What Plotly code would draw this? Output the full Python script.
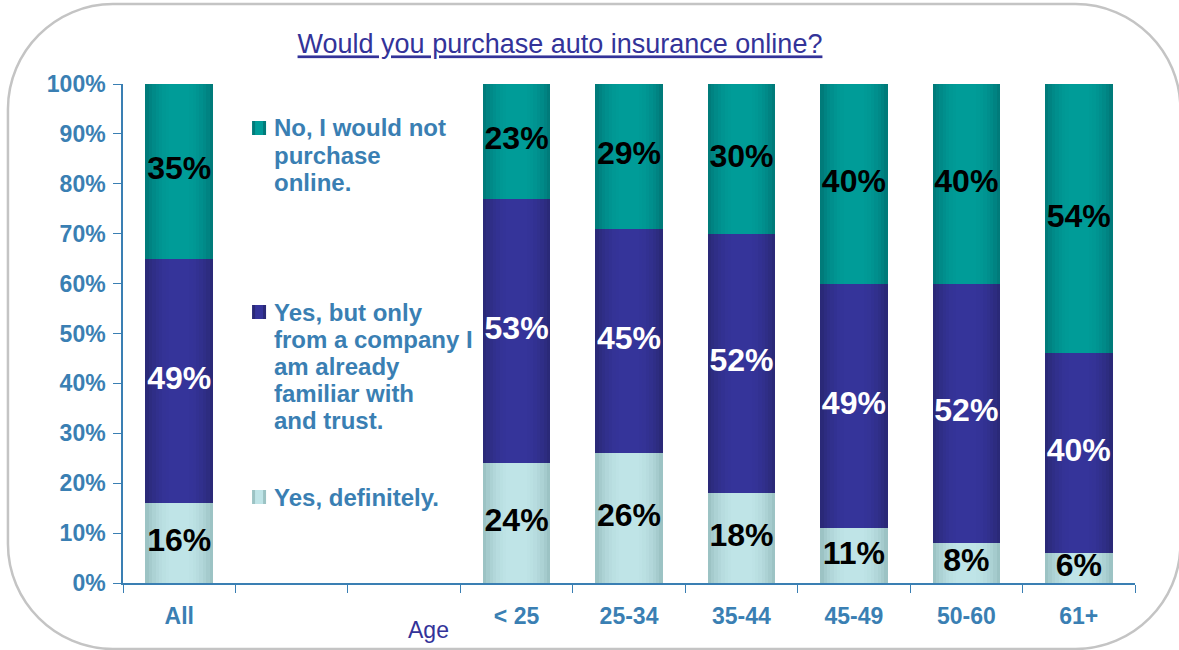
import plotly.graph_objects as go

# Survey results (percent of respondents)
categories = ["All", " ", "  ", "< 25", "25-34", "35-44", "45-49", "50-60", "61+"]
groups = ["All", "< 25", "25-34", "35-44", "45-49", "50-60", "61+"]
yes_definitely = [16, 24, 26, 18, 11, 8, 6]
yes_familiar = [49, 53, 45, 52, 49, 52, 40]
no_online = [35, 23, 29, 30, 40, 40, 54]

series_lines = [
    ["Yes, definitely."],
    ["Yes, but only", "from a company I", "am already", "familiar with", "and trust."],
    ["No, I would not", "purchase", "online."],
]
series_values = [yes_definitely, yes_familiar, no_online]
# (edge colour, centre colour) for the shaded bar fill
series_colors = [("#9cc3c4", "#bfe4e7"), ("#2a2978", "#35349a"), ("#007b7a", "#009c98")]
label_colors = ["black", "white", "black"]

W, H = 1179, 650
L, R, T, B = 123, 44.4, 84, 67
PW, PH = W - L - R, H - T - B
BAR_W = 0.6
AXIS_BLUE = "#3a7fb3"
FONT = "Liberation Sans, Arial, sans-serif"


def px_x(px):
    return (px - L) / PW


def px_y(py):
    return (H - B - py) / PH


def mix(c1, c2, t):
    a = [int(c1[i:i + 2], 16) for i in (1, 3, 5)]
    b = [int(c2[i:i + 2], 16) for i in (1, 3, 5)]
    return "#" + "".join(f"{round(x + (y - x) * t):02x}" for x, y in zip(a, b))


fig = go.Figure()

# invisible trace so that every category slot exists on the axis
fig.add_trace(go.Scatter(x=categories, y=[None] * len(categories), mode="markers",
                         showlegend=False, hoverinfo="skip"))

# nested bars of decreasing width give a soft horizontal shading
layers = [(1.0, 0.0), (0.9, 0.25), (0.8, 0.45), (0.7, 0.62), (0.6, 0.76),
          (0.5, 0.87), (0.4, 0.95), (0.3, 1.0)]

bases = [0] * len(groups)
label_x, label_y, label_t, label_c = [], [], [], []
for vals, (edge, centre), lc in zip(series_values, series_colors, label_colors):
    for frac, t in layers:
        fig.add_trace(go.Bar(
            x=groups, y=vals, base=bases, width=BAR_W * frac,
            marker=dict(color=mix(edge, centre, t), line=dict(width=0)),
            showlegend=False, hoverinfo="skip",
        ))
    for g, v, b0 in zip(groups, vals, bases):
        label_x.append(g)
        label_y.append(b0 + v / 2)
        label_t.append(f"{v}%")
        label_c.append(lc)
    bases = [b0 + v for b0, v in zip(bases, vals)]

fig.add_trace(go.Scatter(
    x=label_x, y=label_y, text=label_t, mode="text",
    textfont=dict(family=FONT, size=32, color=label_c, weight="bold"),
    showlegend=False, hoverinfo="skip",
))

shapes = []
annotations = []

# legend swatches and labels
legend_tops = [490, 305, 121]
LINE_GAP = 27
for lines, (edge, centre), top in zip(series_lines, series_colors, legend_tops):
    shapes.append(dict(type="rect", xref="paper", yref="paper",
                       x0=px_x(252), x1=px_x(266), y0=px_y(top + 14), y1=px_y(top),
                       fillcolor=edge, line=dict(width=0)))
    shapes.append(dict(type="rect", xref="paper", yref="paper",
                       x0=px_x(255), x1=px_x(263), y0=px_y(top + 14), y1=px_y(top),
                       fillcolor=centre, line=dict(width=0)))
    for i, line in enumerate(lines):
        annotations.append(dict(
            text=line, xref="paper", yref="paper", x=px_x(272),
            y=px_y(top + 7 + i * LINE_GAP),
            xanchor="left", yanchor="middle", align="left", showarrow=False,
            font=dict(family=FONT, size=24, color=AXIS_BLUE, weight="bold"),
        ))

annotations.append(dict(
    text="Age", xref="paper", yref="paper", x=px_x(428), y=px_y(630),
    xanchor="center", yanchor="middle", showarrow=False,
    font=dict(family=FONT, size=23, color="#333399"),
))

# rounded frame around the chart
x0, x1, y0, y1, r = 8, 1180, 4, 649, 105
k = 0.45
pts = [
    ("M", [(x0 + r, y0)]),
    ("L", [(x1 - r, y0)]),
    ("C", [(x1 - r * k, y0), (x1, y0 + r * k), (x1, y0 + r)]),
    ("L", [(x1, y1 - r)]),
    ("C", [(x1, y1 - r * k), (x1 - r * k, y1), (x1 - r, y1)]),
    ("L", [(x0 + r, y1)]),
    ("C", [(x0 + r * k, y1), (x0, y1 - r * k), (x0, y1 - r)]),
    ("L", [(x0, y0 + r)]),
    ("C", [(x0, y0 + r * k), (x0 + r * k, y0), (x0 + r, y0)]),
]
path = " ".join(cmd + " ".join(f"{px_x(a):.5f},{px_y(b):.5f}" for a, b in p) for cmd, p in pts) + " Z"
shapes.append(dict(type="path", xref="paper", yref="paper", path=path,
                   line=dict(color="#c4c4c4", width=2.5), layer="below"))

fig.update_layout(
    width=W, height=H,
    margin=dict(l=L, r=R, t=T, b=B),
    paper_bgcolor="white", plot_bgcolor="white",
    barmode="overlay", bargap=0,
    showlegend=False,
    title=dict(
        text="<u>Would you purchase auto insurance online?</u>",
        x=560 / W, xanchor="center",
        y=1 - 44 / H, yanchor="middle",
        font=dict(family=FONT, size=27, color="#333399"),
    ),
    xaxis=dict(
        type="category", categoryorder="array", categoryarray=categories,
        range=[-0.5, 8.5], tickson="boundaries",
        ticks="outside", ticklen=8, tickcolor=AXIS_BLUE, tickwidth=1,
        showline=True, linecolor=AXIS_BLUE, linewidth=1.5,
        showgrid=False, zeroline=False, ticklabelstandoff=12,
        tickfont=dict(family=FONT, size=23, color=AXIS_BLUE, weight="bold"),
    ),
    yaxis=dict(
        range=[0, 100], dtick=10, ticksuffix="%",
        ticks="outside", ticklen=8, tickcolor=AXIS_BLUE, tickwidth=1,
        showline=True, linecolor=AXIS_BLUE, linewidth=1.5,
        showgrid=False, zeroline=False, ticklabelstandoff=3,
        tickfont=dict(family=FONT, size=23, color=AXIS_BLUE, weight="bold"),
    ),
    shapes=shapes,
    annotations=annotations,
)

fig.write_html("out.html")
